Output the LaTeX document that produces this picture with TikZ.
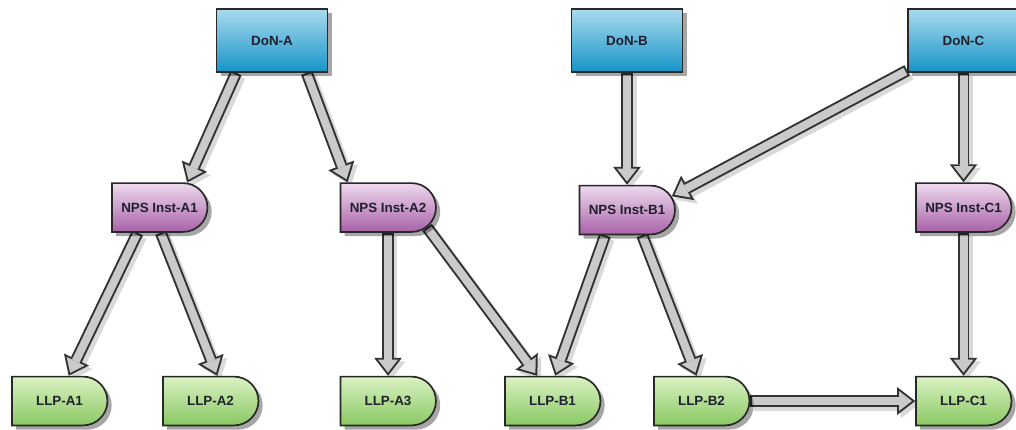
\documentclass[tikz,border=0pt]{standalone}
\usepackage{fontspec}
\setmainfont{Liberation Sans}
\usepackage{tikz}
\usetikzlibrary{arrows.meta}
\usetikzlibrary{shapes.misc,shadows,backgrounds}

\definecolor{boxline}{RGB}{40,40,40}
\definecolor{textdark}{RGB}{30,32,45}
\definecolor{donTop}{RGB}{170,218,238}
\definecolor{donBot}{RGB}{22,148,200}
\definecolor{npsTop}{RGB}{238,218,238}
\definecolor{npsBot}{RGB}{168,98,168}
\definecolor{llpTop}{RGB}{218,242,195}
\definecolor{llpBot}{RGB}{138,200,98}
\definecolor{arrowline}{RGB}{50,50,50}
\definecolor{arrowfill}{RGB}{202,202,202}

\begin{document}
\begin{tikzpicture}[x=0.025cm,y=-0.025cm,
			box base/.style={draw=boxline,line width=1.2pt,text=textdark,
				font=\bfseries\fontsize{9.5}{11}\selectfont,
				drop shadow={shadow xshift=3pt,shadow yshift=-3pt,opacity=0.35,fill=black}},
			don node/.style={box base,rectangle,top color=donTop,bottom color=donBot,
				minimum width=2.775cm,minimum height=1.575cm},
			delay node/.style={box base,rounded rectangle,rounded rectangle left arc=none,
				minimum width=2.62cm,minimum height=1.22cm},
			nps node/.style={delay node,top color=npsTop,bottom color=npsBot},
			llp node/.style={delay node,top color=llpTop,bottom color=llpBot},
			fat arrow/.style={draw=arrowline,line width=8.5pt,
				-{Triangle[length=12.8pt 0 0,width=19.8pt 0 0,line width=0pt 0 0]},
				preaction={draw=black,opacity=0.15,line width=8.5pt,
					transform canvas={shift={(2.5pt,-2.5pt)}},
					-{Triangle[length=12.8pt 0 0,width=19.8pt 0 0,line width=0pt 0 0]}},
				postaction={draw=arrowfill,line width=5.7pt,shorten >=2.3pt,shorten <=1.4pt,
					-{Triangle[length=9.1pt 0 0,width=14.1pt 0 0,line width=0pt 0 0]}}}]
			
			\useasboundingbox (0,0) rectangle (1016,429);
			
			\node[don node] (DA) at (272,40.5) {DoN-A};
			\node[don node] (DB) at (627,40.5) {DoN-B};
			\node[don node] (DC) at (963.5,40.5) {DoN-C};
			
			\node[nps node] (NA1) at (159.5,207.5) {NPS Inst-A1};
			\node[nps node] (NA2) at (388,207.5) {NPS Inst-A2};
			\node[nps node] (NB1) at (627,210) {NPS Inst-B1};
			\node[nps node] (NC1) at (963.5,207.5) {NPS Inst-C1};
			
			\node[llp node] (LA1) at (59.5,401) {LLP-A1};
			\node[llp node] (LA2) at (210.5,401) {LLP-A2};
			\node[llp node] (LA3) at (388,401) {LLP-A3};
			\node[llp node] (LB1) at (552.5,401) {LLP-B1};
			\node[llp node] (LB2) at (701.5,401) {LLP-B2};
			\node[llp node] (LC1) at (963.5,401) {LLP-C1};
			
			\begin{scope}[on background layer]
				\path[every edge/.style={fat arrow}]
				(DA.222) edge (NA1.42)
				(DA.317) edge (NA2.148)
				(DB.south) edge (NB1.north)
				(DC.208) edge (NB1.17)
				(DC.south) edge (NC1.north)
				(NA1.229) edge (LA1.70)
				(NA1.273) edge (LA2.75)
				(NA2.south) edge (LA3.north)
				(NA2.333) edge (LB1.121)
				(NB1.229) edge (LB1.84)
				(NB1.301) edge (LB2.101)
				(NC1.south) edge (LC1.north)
				(LB2.east) edge (LC1.west);
			\end{scope}
		\end{tikzpicture}
\end{document}
